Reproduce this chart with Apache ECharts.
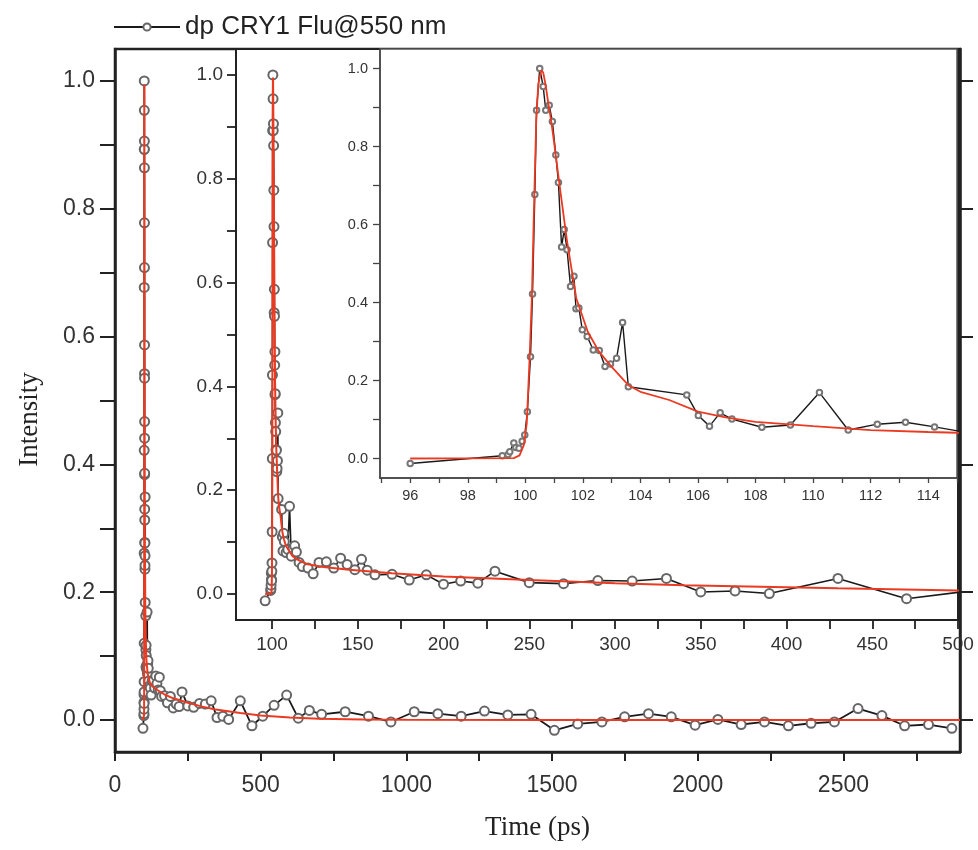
<!DOCTYPE html>
<html>
<head>
<meta charset="utf-8">
<script src="https://cdn.jsdelivr.net/npm/echarts@6/dist/echarts.min.js"></script>
<style>
html,body{margin:0;padding:0;background:#fff;}
#chart{width:978px;height:850px;}
</style>
</head>
<body>
<div id="chart"></div>
<script>
// ---- measured data (time in ps, normalized intensity) ----
const timePs = [96.0, 99.2, 99.4, 99.46, 99.6, 99.67, 99.78, 99.89, 99.98, 100.07, 100.18, 100.25, 100.33, 100.39, 100.5, 100.62, 100.71, 100.83, 100.94, 101.06, 101.15, 101.26, 101.35, 101.45, 101.57, 101.69, 101.76, 101.86, 101.98, 102.15, 102.36, 102.57, 102.77, 102.96, 103.17, 103.38, 103.58, 105.61, 106.01, 106.40, 106.77, 107.18, 108.22, 109.21, 110.22, 111.22, 112.23, 113.21, 114.22, 115.8, 117.7, 121, 124, 127.4, 131.7, 136, 140, 143.8, 148.3, 152.2, 155.5, 160, 170, 180, 190, 200, 210, 220, 230, 250, 270, 290, 310, 330, 350, 370, 390, 430, 470, 507, 546, 589, 629, 667, 709, 790, 870, 947, 1027, 1108, 1188, 1268, 1348, 1428, 1508, 1588, 1671, 1749, 1831, 1909, 1991, 2069, 2149, 2229, 2311, 2389, 2469, 2550, 2632, 2710, 2792, 2872];
const intensity = [-0.013, 0.007, 0.010, 0.017, 0.040, 0.028, 0.026, 0.044, 0.06, 0.12, 0.261, 0.422, 0.677, 0.893, 1.0, 0.954, 0.893, 0.906, 0.864, 0.778, 0.708, 0.542, 0.587, 0.535, 0.441, 0.467, 0.384, 0.386, 0.33, 0.313, 0.278, 0.277, 0.236, 0.242, 0.257, 0.349, 0.184, 0.163, 0.11, 0.083, 0.117, 0.101, 0.080, 0.086, 0.169, 0.073, 0.088, 0.093, 0.081, 0.061, 0.053, 0.050, 0.039, 0.061, 0.062, 0.050, 0.069, 0.057, 0.047, 0.067, 0.046, 0.037, 0.038, 0.027, 0.037, 0.019, 0.025, 0.021, 0.044, 0.022, 0.020, 0.026, 0.025, 0.030, 0.004, 0.006, 0.001, 0.030, -0.009, 0.006, 0.023, 0.039, 0.003, 0.015, 0.009, 0.013, 0.006, -0.003, 0.013, 0.010, 0.006, 0.014, 0.008, 0.009, -0.016, -0.006, -0.003, 0.005, 0.010, 0.005, -0.008, 0.001, -0.007, -0.003, -0.009, -0.005, -0.003, 0.018, 0.007, -0.009, -0.007, -0.013];

// ---- fitted curve ----
const fitTimePs = [96, 99.6, 99.8, 99.95, 100.05, 100.15, 100.23, 100.3, 100.38, 100.45, 100.55, 100.62, 100.7, 100.8, 100.9, 101.0, 101.2, 101.45, 101.77, 102.17, 102.56, 103.0, 103.58, 104, 105, 106, 107, 108, 110, 112, 114, 115, 120, 130, 145, 170, 200, 250, 300, 340, 430, 500, 600, 700, 850, 1000, 1500, 2000, 2900];
const fitIntensity = [0, 0.001, 0.008, 0.035, 0.09, 0.26, 0.42, 0.64, 0.87, 0.96, 0.995, 0.99, 0.96, 0.91, 0.865, 0.81, 0.695, 0.557, 0.411, 0.325, 0.274, 0.235, 0.188, 0.171, 0.15, 0.12, 0.105, 0.094, 0.083, 0.073, 0.068, 0.066, 0.058, 0.052, 0.047, 0.04, 0.034, 0.027, 0.021, 0.017, 0.011, 0.007, 0.004, 0.002, 0.001, 0.0005, 0, 0, 0];

// ---- ticks and labels ----
const mainTimeTicks = [0, 250, 500, 750, 1000, 1250, 1500, 1750, 2000, 2250, 2500, 2750];
const mainTimeLabels = [0, 500, 1000, 1500, 2000, 2500];
const intensityTicks = [0, 0.1, 0.2, 0.3, 0.4, 0.5, 0.6, 0.7, 0.8, 0.9, 1.0];
const intensityLabels = [0, 0.2, 0.4, 0.6, 0.8, 1.0];
const zoomTimeTicks = [100, 125, 150, 175, 200, 225, 250, 275, 300, 325, 350, 375, 400, 425, 450, 475, 500];
const zoomTimeLabels = [100, 150, 200, 250, 300, 350, 400, 450, 500];
const peakTimeTicks = [95, 96, 97, 98, 99, 100, 101, 102, 103, 104, 105, 106, 107, 108, 109, 110, 111, 112, 113, 114, 115];
const peakTimeLabels = [96, 98, 100, 102, 104, 106, 108, 110, 112, 114];

const seriesName = 'dp CRY1 Flu@550 nm';
const dataPairs = timePs.map((t, i) => [t, intensity[i]]);
const fitPairs = fitTimePs.map((t, i) => [t, fitIntensity[i]]);

const SANS = 'Liberation Sans';
const SERIF = 'Liberation Serif';

function xAxisCfg(grid, min, max, ticks, labels, o) {
  return {
    type: 'value', gridIndex: grid, min: min, max: max, z: o.z,
    splitLine: { show: false },
    axisLine: { show: true, onZero: false, lineStyle: { color: o.color, width: o.lw } },
    axisTick: { show: true, inside: false, length: o.tick, customValues: ticks, lineStyle: { color: o.color, width: o.tw } },
    axisLabel: { show: true, customValues: labels, margin: o.margin, fontSize: o.fs, fontFamily: SANS, color: '#333', formatter: v => String(v) },
    name: o.name || '', nameLocation: 'middle', nameGap: o.nameGap || 0,
    nameTextStyle: { fontFamily: SERIF, fontSize: 27, color: '#222' }
  };
}
function yAxisCfg(grid, ticks, labels, o) {
  return {
    type: 'value', gridIndex: grid, min: -0.05, max: 1.05, z: o.z,
    position: o.position || 'left',
    splitLine: { show: false },
    axisLine: { show: true, onZero: false, lineStyle: { color: o.color, width: o.lw } },
    axisTick: { show: true, inside: false, length: o.tick, customValues: ticks, lineStyle: { color: o.color, width: o.tw } },
    axisLabel: { show: !!labels, customValues: labels || [], margin: o.margin || 8, fontSize: o.fs || 12, fontFamily: SANS, color: '#333', formatter: v => v.toFixed(1) },
    name: o.name || '', nameLocation: 'middle', nameGap: o.nameGap || 0,
    nameTextStyle: { fontFamily: SERIF, fontSize: 27, color: '#222', padding: o.namePad || 0 }
  };
}

const chart = echarts.init(document.getElementById('chart'), null, { renderer: 'canvas' });
chart.setOption({
  animation: false,
  backgroundColor: '#fff',
  legend: {
    data: [seriesName], left: 108, top: 9, itemWidth: 66, itemHeight: 9, itemGap: 0,
    textStyle: { fontFamily: SANS, fontSize: 26, color: '#222' }
  },
  grid: [
    { left: 115, right: 18, top: 49, bottom: 98, show: true, backgroundColor: '#fff', borderColor: '#222', borderWidth: 2.5, z: 0 },
    { left: 236, right: 20, top: 49, bottom: 230, show: true, backgroundColor: '#fff', borderColor: '#222', borderWidth: 2, z: 10 },
    { left: 380, right: 21, top: 49, bottom: 372, show: true, backgroundColor: '#fff', borderColor: '#555', borderWidth: 1.5, z: 20 }
  ],
  xAxis: [
    xAxisCfg(0, 0, 2900, mainTimeTicks, mainTimeLabels, { z: 1, color: '#222', lw: 2.5, tw: 2, tick: 9, margin: 22, fs: 23, name: 'Time (ps)', nameGap: 62 }),
    xAxisCfg(1, 79, 500, zoomTimeTicks, zoomTimeLabels, { z: 11, color: '#222', lw: 2, tw: 1.8, tick: 9, margin: 15, fs: 19 }),
    xAxisCfg(2, 94.95, 115, peakTimeTicks, peakTimeLabels, { z: 21, color: '#444', lw: 1.5, tw: 1.3, tick: 5, margin: 10, fs: 14.5 })
  ],
  yAxis: [
    yAxisCfg(0, intensityTicks, intensityLabels, { z: 1, color: '#222', lw: 2.5, tw: 2, tick: 15, margin: 20, fs: 23, name: 'Intensity', nameGap: 72, namePad: [0, 38, 0, 0] }),
    yAxisCfg(0, intensityLabels, null, { z: 1, color: '#222', lw: 2.5, tw: 2, tick: 13, position: 'right' }),
    yAxisCfg(1, intensityTicks, intensityLabels, { z: 11, color: '#222', lw: 2, tw: 1.8, tick: 9, margin: 13, fs: 19 }),
    yAxisCfg(2, intensityTicks, intensityLabels, { z: 21, color: '#444', lw: 1.5, tw: 1.3, tick: 7, margin: 12, fs: 14.5 })
  ],
  series: [
    { name: seriesName, type: 'line', xAxisIndex: 0, yAxisIndex: 0, data: dataPairs, z: 2,
      symbol: 'emptyCircle', symbolSize: 9, showAllSymbol: true,
      lineStyle: { color: '#1a1a1a', width: 1.8 }, itemStyle: { color: '#666', borderWidth: 1 } },
    { name: 'fit-main', type: 'line', xAxisIndex: 0, yAxisIndex: 0, data: fitPairs, z: 3,
      symbol: 'none', lineStyle: { color: '#ea3a22', width: 2 } },
    { name: seriesName, type: 'line', xAxisIndex: 1, yAxisIndex: 2, data: dataPairs, z: 12,
      symbol: 'emptyCircle', symbolSize: 9, showAllSymbol: true,
      lineStyle: { color: '#1a1a1a', width: 1.6 }, itemStyle: { color: '#666', borderWidth: 1 } },
    { name: 'fit-zoom', type: 'line', xAxisIndex: 1, yAxisIndex: 2, data: fitPairs, z: 13,
      symbol: 'none', lineStyle: { color: '#ea3a22', width: 2 } },
    { name: seriesName, type: 'line', xAxisIndex: 2, yAxisIndex: 3, data: dataPairs, z: 22,
      symbol: 'emptyCircle', symbolSize: 5.5, showAllSymbol: true,
      lineStyle: { color: '#1a1a1a', width: 1.4 }, itemStyle: { color: '#777', borderWidth: 0.9 } },
    { name: 'fit-peak', type: 'line', xAxisIndex: 2, yAxisIndex: 3, data: fitPairs, z: 23,
      symbol: 'none', lineStyle: { color: '#ea3a22', width: 1.8 } }
  ]
});
</script>
</body>
</html>
